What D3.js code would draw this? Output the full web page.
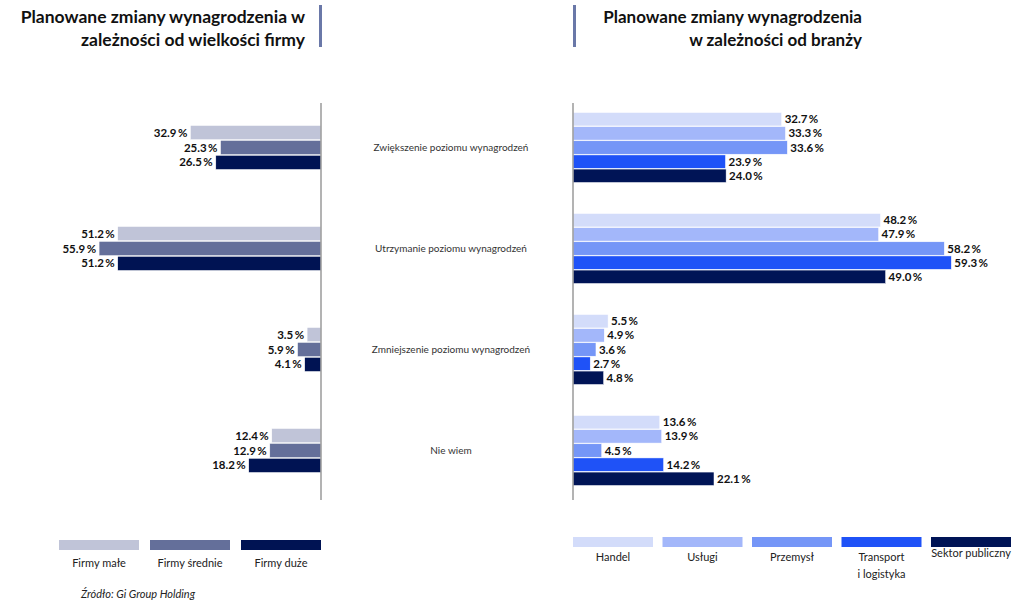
<!DOCTYPE html>
<html><head><meta charset="utf-8">
<script src="https://cdn.jsdelivr.net/npm/d3@7"></script>
<style>body{margin:0;background:#fff;}svg{display:block;font-family:Lato,sans-serif;}</style>
</head><body><svg id="c" width="1024" height="608"></svg>
<script>
const categories = ["Zwiększenie poziomu wynagrodzeń","Utrzymanie poziomu wynagrodzeń","Zmniejszenie poziomu wynagrodzeń","Nie wiem"];
const sizeSeries = ["Firmy małe","Firmy średnie","Firmy duże"];
const sizeValues = [
  [32.9, 51.2, 3.5, 12.4],
  [25.3, 55.9, 5.9, 12.9],
  [26.5, 51.2, 4.1, 18.2]
];
const sectorSeries = ["Handel","Usługi","Przemysł","Transport\ni logistyka","Sektor publiczny"];
const sectorValues = [
  [32.7, 48.2, 5.5, 13.6],
  [33.3, 47.9, 4.9, 13.9],
  [33.6, 58.2, 3.6, 4.5],
  [23.9, 59.3, 2.7, 14.2],
  [24.0, 49.0, 4.8, 22.1]
];
const sizeColors = ["#c0c4d8","#646f9a","#001353"];
const sectorColors = ["#d3dcfa","#a3b7fa","#7596f7","#1f52f7","#001456"];
const titleLeft = ["Planowane zmiany wynagrodzenia w","zależności od wielkości firmy"];
const titleRight = ["Planowane zmiany wynagrodzenia","w zależności od branży"];
const source = "Źródło: Gi Group Holding";

const svg = d3.select("#c");
const fmt = v => d3.format(".1f")(v) + "\u2009%";

const y = d3.scaleBand().domain(categories).range([97, 501]);
const yInL = d3.scaleBand().domain(sizeSeries).range([-22, 22]).paddingInner(0.05);
const yInR = d3.scaleBand().domain(sectorSeries).range([-35, 35]).paddingInner(0.05);
const axL = 321, axR = 573;
const xL = d3.scaleLinear().domain([0, 60]).range([axL, axL - 238.2]);
const xR = d3.scaleLinear().domain([0, 60]).range([axR, axR + 382.8]);

// titles
const tl = svg.append("text").attr("text-anchor","end").attr("font-weight","bold").attr("font-size",17.5).attr("fill","#111");
titleLeft.forEach((t,i)=>tl.append("tspan").attr("x",305).attr("y",23+i*23).text(t));
const tr = svg.append("text").attr("text-anchor","end").attr("font-weight","bold").attr("font-size",17).attr("fill","#111");
titleRight.forEach((t,i)=>tr.append("tspan").attr("x",862).attr("y",23+i*23).text(t));
svg.append("rect").attr("x",319).attr("y",5).attr("width",3).attr("height",42).attr("fill","#6a78a8");
svg.append("rect").attr("x",573).attr("y",5).attr("width",3).attr("height",42).attr("fill","#6a78a8");

// left bars
sizeSeries.forEach((s,si)=>{
  const g = svg.append("g");
  categories.forEach((c,ci)=>{
    const v = sizeValues[si][ci];
    const yy = y(c) + y.bandwidth()/2 + yInL(s);
    g.append("rect").attr("x", xL(v)).attr("y", yy).attr("width", axL - xL(v)).attr("height", yInL.bandwidth())
      .attr("fill", sizeColors[si]).attr("stroke","#fff").attr("stroke-width",0.5);
    g.append("text").attr("x", xL(v) - 3).attr("y", yy + yInL.bandwidth()/2).attr("dy","0.35em")
      .attr("text-anchor","end").attr("font-size",11.5).attr("font-weight","bold").attr("fill","#111").text(fmt(v));
  });
});
// right bars
sectorSeries.forEach((s,si)=>{
  const g = svg.append("g");
  categories.forEach((c,ci)=>{
    const v = sectorValues[si][ci];
    const yy = y(c) + y.bandwidth()/2 + yInR(s);
    g.append("rect").attr("x", axR).attr("y", yy).attr("width", xR(v) - axR).attr("height", yInR.bandwidth())
      .attr("fill", sectorColors[si]).attr("stroke","#fff").attr("stroke-width",0.5);
    g.append("text").attr("x", xR(v) + 3).attr("y", yy + yInR.bandwidth()/2).attr("dy","0.35em")
      .attr("text-anchor","start").attr("font-size",11.5).attr("font-weight","bold").attr("fill","#111").text(fmt(v));
  });
});
// axes lines
svg.append("line").attr("x1",axL).attr("x2",axL).attr("y1",103).attr("y2",500).attr("stroke","#9a9a9a").attr("stroke-width",1.5);
svg.append("line").attr("x1",axR).attr("x2",axR).attr("y1",103).attr("y2",500).attr("stroke","#9a9a9a").attr("stroke-width",1.5);

// category labels
categories.forEach(c=>{
  svg.append("text").attr("x",451).attr("y", y(c)+y.bandwidth()/2).attr("dy","0.35em").attr("text-anchor","middle")
    .attr("font-size",10).attr("fill","#333").text(c);
});

// legends
const legL = d3.scaleBand().domain(sizeSeries).range([59, 321]).paddingInner(11/91);
sizeSeries.forEach((s,i)=>{
  svg.append("rect").attr("x",legL(s)).attr("y",540).attr("width",legL.bandwidth()).attr("height",10).attr("fill",sizeColors[i]);
  svg.append("text").attr("x",legL(s)+legL.bandwidth()/2).attr("y",567).attr("text-anchor","middle").attr("font-size",11).attr("fill","#222").text(s);
});
const legR = d3.scaleBand().domain(sectorSeries).range([573, 1011]).paddingInner(9.5/89.5);
sectorSeries.forEach((s,i)=>{
  svg.append("rect").attr("x",legR(s)).attr("y",537).attr("width",legR.bandwidth()).attr("height",10).attr("fill",sectorColors[i]);
  const t = svg.append("text").attr("text-anchor","middle").attr("font-size",11).attr("fill","#222");
  s.split("\n").forEach((line,li)=>t.append("tspan").attr("x",legR(s)+legR.bandwidth()/2).attr("y",(i===4?557:561)+li*17).text(line));
});
svg.append("text").attr("x",81).attr("y",598).attr("font-size",11).attr("font-style","italic").attr("fill","#222").text(source);
</script></body></html>
